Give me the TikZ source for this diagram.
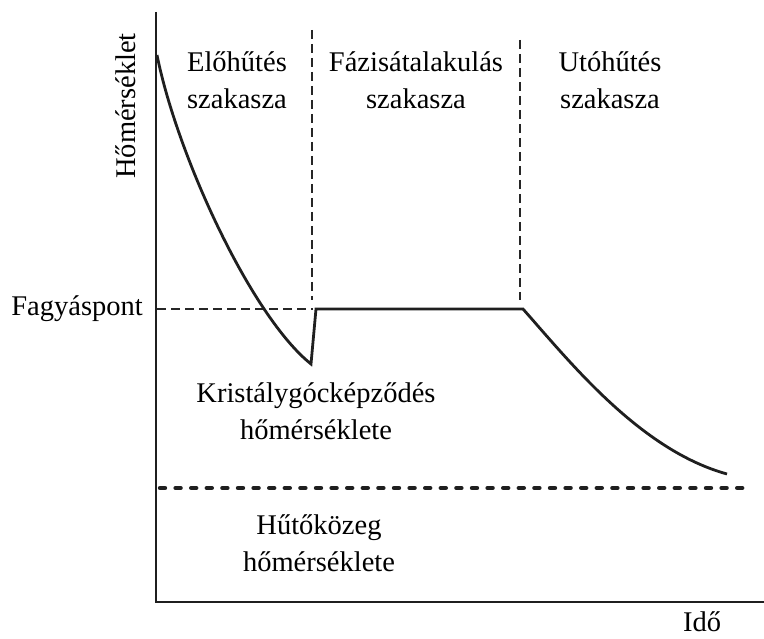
\documentclass[tikz,border=0pt]{standalone}
\usepackage{fontspec}
\setmainfont{Liberation Serif}
\begin{document}
\begin{tikzpicture}[x=1pt,y=-1pt,
  lbl/.style={inner sep=0pt,align=center,font=\fontsize{28.5}{37}\selectfont,text=black},
  axis/.style={line width=2.8pt,draw=black!88},
  curve/.style={line width=2.8pt,draw=black!88,line join=miter},
  guide/.style={line width=1.4pt,draw=black!85,dash pattern=on 9pt off 5pt},
  coolant/.style={line width=4.4pt,draw=black!88,line cap=round,dash pattern=on 5pt off 10.6pt}]
\useasboundingbox (0,0) rectangle (764,639);
% axes
\coordinate (ytop) at (156,12);
\coordinate (orig) at (156,602);
\coordinate (xend) at (764,602);
\draw[axis] (ytop) -- (orig) -- (xend);
% phase separators
\coordinate (s1t) at (312,30);
\coordinate (s1b) at (312,300);
\coordinate (s2t) at (520,40);
\coordinate (s2b) at (520,300);
\draw[guide] (s1t) -- (s1b);
\draw[guide] (s2t) -- (s2b);
% freezing point guide
\coordinate (fpa) at (157,309);
\coordinate (fpb) at (313,309);
\draw[guide] (fpa) -- (fpb);
% coolant temperature
\coordinate (c1) at (160,488);
\coordinate (c2) at (746,488);
\draw[coolant] (c1) -- (c2);
% temperature curve
\coordinate (p0) at (157,55);
\coordinate (p1) at (311,364);
\coordinate (p2) at (316,309);
\coordinate (p3) at (523,309);
\coordinate (p4) at (727,474);
\draw[curve] (p0) .. controls (177,155) and (251,316) .. (p1) -- (p2) -- (p3)
   .. controls (570,362) and (640,450) .. (p4);
% labels
\node[lbl] (pre) at (237,80) {Előhűtés\\szakasza};
\node[lbl] (phase) at (416,80) {Fázisátalakulás\\szakasza};
\node[lbl] (post) at (610,80) {Utóhűtés\\szakasza};
\node[lbl,anchor=east] (fp) at (143,309) {Fagyáspont};
\node[lbl] (nuc) at (316,411) {Kristálygócképződés\\hőmérséklete};
\node[lbl] (cool) at (319,543) {Hűtőközeg\\hőmérséklete};
\node[lbl] (time) at (702,622) {Idő};
\node[lbl,rotate=90] (temp) at (126,106) {Hőmérséklet};
\end{tikzpicture}
\end{document}
